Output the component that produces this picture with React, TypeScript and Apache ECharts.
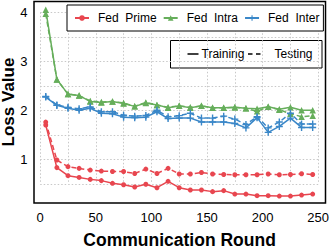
import { useEffect, useRef } from "react";
import * as echarts from "echarts";

const rounds = [5, 15, 25, 35, 45, 55, 65, 75, 85, 95, 105, 115, 125, 135, 145, 155, 165, 175, 185, 195, 205, 215, 225, 235, 245];

const primeTrain = [1.70, 0.83, 0.665, 0.63, 0.59, 0.565, 0.51, 0.48, 0.435, 0.49, 0.42, 0.55, 0.42, 0.373, 0.373, 0.34, 0.36, 0.29, 0.29, 0.257, 0.257, 0.25, 0.25, 0.27, 0.29];
const primeTest = [1.76, 0.985, 0.85, 0.815, 0.78, 0.76, 0.75, 0.75, 0.71, 0.80, 0.71, 0.815, 0.70, 0.70, 0.73, 0.70, 0.69, 0.685, 0.685, 0.685, 0.70, 0.685, 0.69, 0.705, 0.69];

const intraTrain = [4.05, 2.63, 2.33, 2.30, 2.18, 2.16, 2.18, 2.14, 2.08, 2.15, 2.11, 2.05, 2.09, 2.05, 2.09, 2.05, 2.05, 2.06, 2.04, 2.03, 2.07, 2.02, 2.06, 2.0, 2.0];
const intraTest = [3.97, 2.63, 2.33, 2.30, 2.19, 2.17, 2.18, 2.15, 2.08, 2.16, 2.11, 2.06, 2.09, 2.06, 2.09, 2.05, 2.05, 2.06, 2.04, 1.98, 2.07, 2.01, 1.93, 1.87, 1.89];

const interTrain = [2.27, 2.10, 2.04, 2.00, 2.04, 1.94, 1.93, 1.86, 1.85, 1.86, 1.97, 1.83, 1.84, 1.84, 1.76, 1.76, 1.76, 1.73, 1.64, 1.85, 1.55, 1.67, 1.84, 1.65, 1.65];
const interTest = [2.28, 2.11, 2.06, 2.03, 2.07, 1.97, 1.97, 1.90, 1.88, 1.895, 2.00, 1.87, 1.89, 1.94, 1.84, 1.84, 1.88, 1.82, 1.71, 1.87, 1.64, 1.76, 1.94, 1.72, 1.72];

const methodNames = ["Fed  Prime", "Fed  Intra", "Fed  Inter"];
const styleNames = ["Training", "Testing"];
const xTicks = [0, 50, 100, 150, 200, 250];
const yTicks = [1, 2, 3, 4];

const FONT = "'Liberation Sans', Arial, Helvetica, sans-serif";
const RED = "#E8464F";
const GREEN = "#66AE5B";
const BLUE = "#3A87C8";
const PLUS = "path://M4,0H6V4H10V6H6V10H4V6H0V4H4Z";

const X_MIN = -6;
const X_MAX = 256.7;
const Y_MIN = 0.108;
const Y_MAX = 4.23;

// plot frame box (pixels)
const FL = 34, FT = 1.5, FR = 325.5, FB = 203;

function makeSeries(name: string, values: number[], color: string, symbol: string, size: number, dashed: boolean) {
  return {
    name,
    type: "line",
    xAxisIndex: 0,
    yAxisIndex: 0,
    data: rounds.map((r, i) => [r, values[i]]),
    symbol,
    symbolSize: size,
    showSymbol: true,
    itemStyle: { color },
    lineStyle: { color, width: 1.5, type: dashed ? [5, 3] : "solid" },
    emphasis: { disabled: true },
  };
}

export default function App() {
  const ref = useRef<HTMLDivElement>(null);
  useEffect(() => {
    const chart = echarts.init(ref.current!, null, { renderer: "svg" });
    const option = {
      animation: false,
      backgroundColor: "#ffffff",
      textStyle: { fontFamily: FONT },
      grid: [
        { left: 33.5, right: 5.3, top: 1, bottom: 46, containLabel: false, outerBoundsMode: "none" },
        { left: 40.2, right: 12.8, top: 12.3, bottom: 65.2, containLabel: false, outerBoundsMode: "none" },
      ],
      xAxis: [
        {
          gridIndex: 0, type: "value", min: X_MIN, max: X_MAX,
          axisLine: { show: false }, axisTick: { show: false }, axisLabel: { show: false }, splitLine: { show: false },
          name: "Communication Round", nameLocation: "middle", nameGap: 28,
          nameTextStyle: { fontSize: 17.5, fontWeight: "bold", color: "#000", fontFamily: FONT },
        },
        {
          gridIndex: 1, type: "value", min: 0, max: 250, interval: 25,
          axisLine: { show: false }, axisTick: { show: false },
          axisLabel: {
            margin: 27, fontSize: 13, color: "#000", fontFamily: FONT,
            formatter: (v: number) => (xTicks.includes(v) ? String(v) : ""),
          },
          splitLine: { show: true, lineStyle: { color: "#c8c8c8", type: [1.5, 2], width: 1 } },
        },
      ],
      yAxis: [
        {
          gridIndex: 0, type: "value", min: Y_MIN, max: Y_MAX,
          axisLine: { show: false }, axisTick: { show: false }, axisLabel: { show: false }, splitLine: { show: false },
          name: "Loss Value", nameLocation: "middle", nameGap: 16.5,
          nameTextStyle: { fontSize: 17, fontWeight: "bold", color: "#000", fontFamily: FONT },
        },
        {
          gridIndex: 1, type: "value", min: 0.5, max: 4, interval: 0.5,
          axisLine: { show: false }, axisTick: { show: false },
          axisLabel: {
            margin: 12.7, fontSize: 13, color: "#000", fontFamily: FONT,
            formatter: (v: number) => (yTicks.includes(v) ? String(v) : ""),
          },
          splitLine: { show: true, lineStyle: { color: "#c8c8c8", type: [1.5, 2], width: 1 } },
        },
      ],
      legend: {
        data: methodNames,
        left: 67, top: 5,
        orient: "horizontal",
        itemWidth: 14, itemHeight: 7, itemGap: 6,
        padding: [7, 4, 7, 7],
        borderColor: "#000", borderWidth: 1, borderRadius: 0,
        backgroundColor: "#fff",
        selectedMode: false,
        textStyle: { fontSize: 12, color: "#000", fontFamily: FONT, padding: [0, 0, 0, 4] },
        z: 10,
      },
      graphic: [
        {
          type: "group", z: 100,
          children: [
            { type: "polyline", shape: { points: [[FL, FT], [FR, FT], [FR, FB], [FL, FB], [FL, FT - 0.75]] }, style: { fill: null, stroke: "#000", lineWidth: 1.5 } },
            { type: "rect", shape: { x: 170.5, y: 40.5, width: 151.5, height: 27.5 }, style: { fill: "#fff", stroke: "#000", lineWidth: 1 } },
            { type: "line", shape: { x1: 187.5, y1: 54, x2: 198.5, y2: 54 }, style: { stroke: "#000", lineWidth: 1.5 } },
            { type: "text", x: 201.5, y: 54, style: { text: styleNames[0], fontSize: 12, fill: "#000", fontFamily: FONT, verticalAlign: "middle" } },
            { type: "line", shape: { x1: 248, y1: 54, x2: 252.5, y2: 54 }, style: { stroke: "#000", lineWidth: 1.5 } },
            { type: "line", shape: { x1: 256, y1: 54, x2: 260.5, y2: 54 }, style: { stroke: "#000", lineWidth: 1.5 } },
            { type: "text", x: 274.5, y: 54, style: { text: styleNames[1], fontSize: 12, fill: "#000", fontFamily: FONT, verticalAlign: "middle" } },
          ],
        },
      ],
      series: [
        makeSeries(methodNames[0], primeTrain, RED, "circle", 5, false),
        makeSeries(methodNames[0], primeTest, RED, "circle", 5, true),
        makeSeries(methodNames[1], intraTrain, GREEN, "triangle", 6.5, false),
        makeSeries(methodNames[1], intraTest, GREEN, "triangle", 6.5, true),
        makeSeries(methodNames[2], interTrain, BLUE, PLUS, 7, false),
        makeSeries(methodNames[2], interTest, BLUE, PLUS, 7, true),
      ],
    };
    chart.setOption(option as any);
    return () => chart.dispose();
  }, []);
  return <div ref={ref} style={{ position: "absolute", left: 0, top: 0, width: 331, height: 249 }} />;
}
